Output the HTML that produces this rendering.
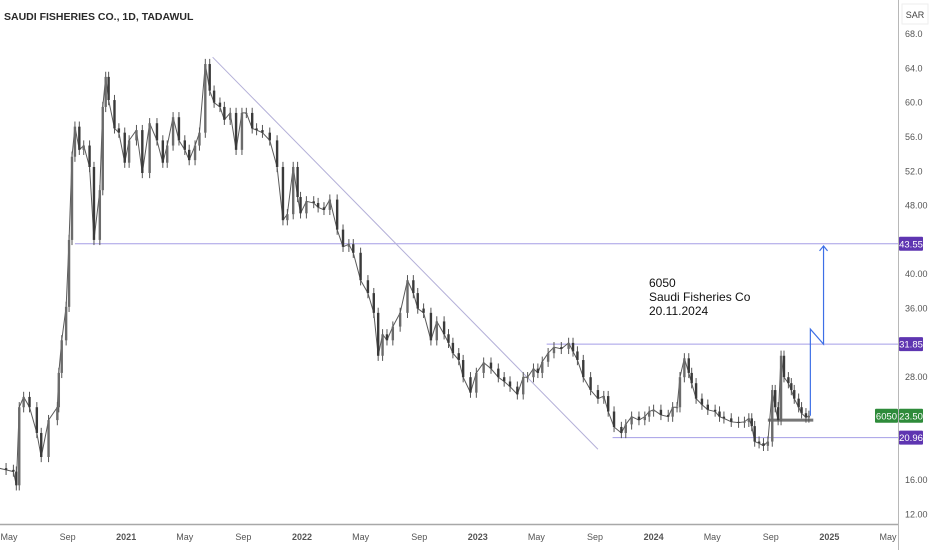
<!DOCTYPE html>
<html><head><meta charset="utf-8">
<style>
body{margin:0;background:#fff;width:932px;height:550px;overflow:hidden;font-family:"Liberation Sans",sans-serif;}
svg{display:block}
</style></head>
<body>
<svg id="chart" width="932" height="550">
  <text x="4" y="20" font-size="10.5" font-weight="bold" fill="#2a2a2a">SAUDI FISHERIES CO., 1D, TADAWUL</text>
  <line x1="898.5" y1="0" x2="898.5" y2="550" stroke="#b8b8b8"/>
  <line x1="0" y1="524.5" x2="898" y2="524.5" stroke="#a8a8a8" stroke-width="1.5"/>
  <rect x="902" y="4" width="26" height="20" fill="#fff" stroke="#eee"/>
  <text x="915" y="18" font-size="9" fill="#444" text-anchor="middle">SAR</text>
  <g id="yaxis"></g><g id="xaxis"></g><g id="draw"></g><g id="candles"></g><g id="badges"></g>
  <text font-size="12" fill="#111">
    <tspan x="649" y="287">6050</tspan><tspan x="649" y="301">Saudi Fisheries Co</tspan><tspan x="649" y="315">20.11.2024</tspan>
  </text>
</svg>
<script>
// months offset from May 2020
const months=[-0.7,-0.2,0.3,0.5,0.7,1.0,1.4,1.9,2.2,2.7,3.3,3.4,3.6,3.9,4.1,4.3,4.5,4.8,5.1,5.5,5.8,6.2,6.4,6.6,6.8,7.2,7.5,7.9,8.2,8.7,9.1,9.6,10.1,10.5,10.8,11.2,11.6,12.0,12.3,12.7,13.0,13.4,13.7,14.0,14.4,14.7,15.1,15.5,15.9,16.2,16.6,16.9,17.3,17.8,18.3,18.7,19.0,19.4,19.7,19.9,20.3,20.8,21.1,21.5,21.9,22.4,22.8,23.2,23.5,24.0,24.5,24.9,25.2,25.5,25.8,26.2,26.7,27.2,27.6,27.9,28.3,28.8,29.2,29.7,30.0,30.3,30.7,31.0,31.5,31.9,32.4,32.9,33.4,33.8,34.2,34.7,35.1,35.4,35.8,36.1,36.4,36.8,37.2,37.7,38.2,38.5,38.8,39.2,39.7,40.2,40.6,40.9,41.3,41.8,42.1,42.5,43.0,43.4,43.7,44.0,44.5,45.0,45.3,45.6,45.8,46.1,46.4,46.6,46.9,47.3,47.7,48.2,48.5,48.8,49.3,49.8,50.2,50.5,50.7,50.9,51.2,51.5,51.8,52.1,52.3,52.5,52.7,52.9,53.2,53.4,53.6,53.9,54.1,54.4,54.6];
const closes=[17.4,17.2,17.0,15.4,24.5,25.7,24.5,21.5,18.7,23.0,24.5,28.5,32.3,36.2,44.0,53.7,57.2,54.5,55.0,52.5,44.0,49.8,59.5,63.0,60.3,57.0,56.5,53.0,55.6,56.8,51.8,57.6,55.6,53.0,55.0,58.3,55.6,54.5,53.3,55.0,56.5,64.5,61.4,60.0,59.5,58.0,58.8,54.5,58.8,58.8,57.0,56.8,56.5,55.6,52.5,46.3,47.0,52.5,49.0,47.1,48.5,48.3,47.8,47.5,48.7,45.2,43.2,43.5,42.5,39.3,37.8,35.5,30.5,33.0,32.3,33.9,35.5,39.3,37.8,36.0,35.5,32.3,34.5,33.0,32.0,30.8,30.0,28.0,26.2,28.5,29.7,29.0,28.0,27.5,26.9,26.0,28.0,28.0,29.0,28.5,29.8,30.8,31.5,31.3,32.0,31.0,30.0,28.0,26.5,25.5,25.8,24.0,22.2,21.5,22.5,23.4,23.0,23.4,24.0,24.2,23.6,23.4,24.5,24.5,28.0,30.2,28.5,27.3,25.5,24.8,24.2,24.0,23.4,23.2,22.8,22.7,22.8,23.2,22.3,20.5,20.3,20.0,20.5,26.5,24.5,23.0,30.5,28.0,27.3,26.5,25.5,24.5,23.8,23.3,23.5];
const yTicks=[68,64,60,56,52,48,40,36,28,16,12];
const yTickLabels=["68.0","64.0","60.0","56.0","52.0","48.00","40.00","36.00","28.00","16.00","12.00"];
const xTickMonths=[0,4,8,12,16,20,24,28,32,36,40,44,48,52,56,60];
const xTickLabels=["May","Sep","2021","May","Sep","2022","May","Sep","2023","May","Sep","2024","May","Sep","2025","May"];
const levels=[43.55,31.85,20.96];
const levelStartMonths=[4.5,36.7,41.2];
const lastPrice=23.50;

const NS="http://www.w3.org/2000/svg";
const X=m=>9+m*14.65;
const Y=v=>34+(68-v)*8.58;
function mk(parent,tag,attrs){const e=document.createElementNS(NS,tag);for(const k in attrs)e.setAttribute(k,attrs[k]);document.getElementById(parent).appendChild(e);return e;}

yTicks.forEach((t,i)=>{
  const e=mk('yaxis','text',{x:905,y:Y(t)+3,'font-size':9,fill:'#555'});
  e.textContent=yTickLabels[i];
  
  
});
xTickMonths.forEach((m,i)=>{
  const e=mk('xaxis','text',{x:X(m),y:540,'font-size':9,fill:'#555','text-anchor':'middle','font-weight':/\d/.test(xTickLabels[i])?'bold':'normal'});
  e.textContent=xTickLabels[i];
  
  
});
// level lines
levels.forEach((l,i)=>{
  const e=mk('draw','line',{x1:X(levelStartMonths[i]),x2:898,y1:Y(l),y2:Y(l),stroke:'#a59ee6','stroke-width':1});
  
  
});
// trendline
let tl=mk('draw','line',{x1:X(13.9),y1:Y(65.3),x2:X(40.2),y2:Y(19.6),stroke:'#b4b0d8','stroke-width':1});


// support bar
let sb=mk('draw','line',{x1:X(51.8),x2:X(54.9),y1:Y(23.0),y2:Y(23.0),stroke:'#777','stroke-width':3});


// target arrow path
let ap=mk('draw','path',{d:`M${X(54.7)},${Y(23.5)} L${X(54.7)},${Y(33.6)} L${X(55.6)},${Y(31.85)} L${X(55.6)},${Y(43.3)} M${X(55.6)-4},${Y(43.3)+5} L${X(55.6)},${Y(43.3)} L${X(55.6)+4},${Y(43.3)+5}`,stroke:'#3d6fe6','stroke-width':1.2,fill:'none'});


// price line + candles
let d='';closes.forEach((c,i)=>{d+=(i?'L':'M')+X(months[i])+','+Y(c);});
let pl=mk('candles','path',{d:d,stroke:'#5a5a5a','stroke-width':1,fill:'none'});


closes.forEach((c,i)=>{
  const o=i?closes[i-1]:c;const x=X(months[i]);
  const hi=Math.max(o,c)+0.6,lo=Math.min(o,c)-0.6;
  const w=mk('candles','line',{x1:x,x2:x,y1:Y(hi),y2:Y(lo),stroke:'#555','stroke-width':1});
  
  
  const top=Y(Math.max(o,c)),h=Math.max(1,Y(Math.min(o,c))-top);
  const b=mk('candles','rect',{x:x-1.2,y:top,width:2.4,height:h,fill:c>=o?'#6b6b6b':'#3a3a3a'});
  
  
});
// badges
function badge(v,txt,color,x,w,name){
  const r=mk('badges','rect',{x:x,y:Y(v)-7,width:w,height:14,fill:color,rx:1});
  
  
  const t=mk('badges','text',{x:x+w/2,y:Y(v)+3.5,'font-size':9.5,fill:'#fff','text-anchor':'middle'});
  t.textContent=txt;
  
  
}
levels.forEach(l=>badge(l,l.toFixed(2),'#5e35b1',899,24,'level-badge'));
badge(lastPrice,'23.50','#2e8b3a',899,24,'last-price-badge');
badge(lastPrice,'6050','#2e8b3a',875,23,'symbol-badge');
</script>
</body></html>
